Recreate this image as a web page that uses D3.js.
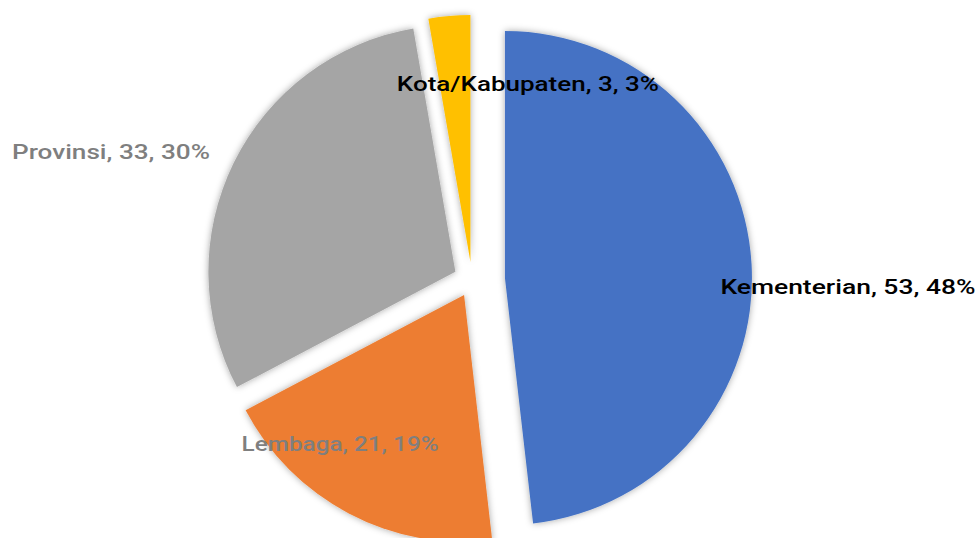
<!DOCTYPE html>
<html><head><meta charset="utf-8">
<script src="https://cdn.jsdelivr.net/npm/d3@7"></script>
<style>body{margin:0;background:#fff}svg{display:block}</style>
</head><body><svg id="c" width="980" height="538"></svg>
<script>
// ---- data ----
const categories = ["Kementerian", "Lembaga", "Provinsi", "Kota/Kabupaten"];
const values = [53, 21, 33, 3];

// ---- styling / layout ----
const colors = ["#4472C4", "#ED7D31", "#A5A5A5", "#FFC000"];
const labelColors = ["#000000", "#7F7F7F", "#7F7F7F", "#000000"];
const explode = [33, 17, 18.5, 18];
const labelAngleDeg = [91.1, 218.8, 289.5, 15.9];
const labelDist = [376, 210.5, 383, 204];
const labelWidths = [255, 197, 198, 262];
const cx = 472, cy = 280, radius = 247;

const svg = d3.select("#c");
const defs = svg.append("defs");
const f = defs.append("filter").attr("id", "sh")
  .attr("x", "-20%").attr("y", "-20%").attr("width", "140%").attr("height", "140%");
f.append("feDropShadow").attr("dx", 0).attr("dy", 0).attr("stdDeviation", 3.5)
  .attr("flood-color", "#000").attr("flood-opacity", 0.35);

const total = d3.sum(values);
const pie = d3.pie().sort(null).value(d => d)(values);
const arc = d3.arc().innerRadius(0).outerRadius(radius);
const pct = d3.format(".0%");

svg.append("g").selectAll("path").data(pie).join("path")
  .attr("d", arc)
  .attr("fill", (d, i) => colors[i])
  .attr("filter", "url(#sh)")
  .attr("transform", (d, i) => {
    const m = (d.startAngle + d.endAngle) / 2;
    return `translate(${cx + explode[i] * Math.sin(m)},${cy - explode[i] * Math.cos(m)})`;
  });

svg.append("g").selectAll("text").data(pie).join("text")
  .attr("x", (d, i) => cx + labelDist[i] * Math.sin(labelAngleDeg[i] * Math.PI / 180))
  .attr("y", (d, i) => cy - labelDist[i] * Math.cos(labelAngleDeg[i] * Math.PI / 180))
  .attr("text-anchor", "middle")
  .attr("dominant-baseline", "central")
  .attr("font-family", "Roboto, 'Noto Sans', sans-serif")
  .attr("font-weight", 500)
  .attr("font-size", 21)
  .attr("fill", (d, i) => labelColors[i])
  .attr("textLength", (d, i) => labelWidths[i])
  .attr("lengthAdjust", "spacingAndGlyphs")
  .text((d, i) => `${categories[i]}, ${values[i]}, ${pct(values[i] / total)}`);
</script></body></html>
